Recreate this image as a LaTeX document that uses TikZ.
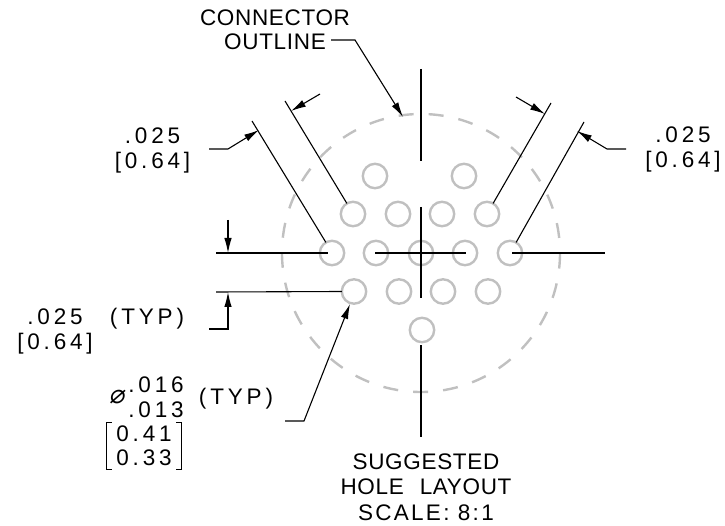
\documentclass[tikz,border=0pt]{standalone}
\usepackage{fontspec}
\usetikzlibrary{arrows.meta}
\setmainfont{Liberation Sans}
\newfontfamily\LabelFont[LetterSpace=3,WordSpace=2.3]{Liberation Sans}
\newfontfamily\DimFont[LetterSpace=17]{Liberation Sans}
\newfontfamily\ScaleFont[LetterSpace=10]{Liberation Sans}
\newfontfamily\DiaFont[FakeSlant=0.15]{DejaVu Sans}
\definecolor{holegray}{HTML}{C0C0C0}
\tikzset{
	hole/.style={circle, draw=holegray, line width=2.4pt, minimum size=24.4pt, inner sep=0pt, outer sep=0pt},
	shell/.style={circle, draw=holegray, line width=2.4pt, minimum size=278pt, inner sep=0pt, outer sep=0pt, dash pattern=on 15pt off 15.1pt, dash phase=15pt},
	dimline/.style={draw=black, line width=1.1pt},
	leader/.style={dimline, -{Latex[length=15pt,width=7.5pt]}},
	label/.style={font=\fontsize{22.5}{24.5}\selectfont\LabelFont, inner sep=0pt, anchor=base, align=center},
	dimtext/.style={font=\fontsize{22.5}{25}\selectfont\DimFont, inner sep=0pt, anchor=base, align=center},
	bracketbox/.style={font=\fontsize{22.5}{24}\selectfont\DimFont, inner sep=0pt, align=center, minimum width=74pt, minimum height=46pt}
}

\begin{document}
\begin{tikzpicture}[x=1pt,y=-1pt]
	\useasboundingbox (0,0) rectangle (725,526);

	% Define nodes
	\node[shell] (shell) at (421,253) {};
	\node[hole] (T1) at (375,176) {};
	\node[hole] (T2) at (464,176) {};
	\foreach \n/\x in {1/353,2/398,3/442,4/487} {
		\node[hole] (U\n) at (\x,214) {};
		\node[hole] (L\n) at (\x+1,291.5) {};
	}
	\foreach \n/\x in {1/332,2/376,3/421,4/465,5/510} {
		\node[hole] (M\n) at (\x,253) {};
	}
	\node[hole] (B1) at (422,330) {};

	\node[label] (conn) at (275,50) {CONNECTOR\\OUTLINE};
	\node[label] (sugg) at (426,494) {SUGGESTED\\HOLE LAYOUT};
	\node[label, font=\fontsize{22.5}{24.5}\selectfont\ScaleFont] (scale) at (426,520) {SCALE: 8:1};
	\node[dimtext] (dimUL) at (152.5,169) {.025\\{[}0.64{]}};
	\node[dimtext] (dimUR) at (683,168) {.025\\{[}0.64{]}};
	\node[dimtext] (dimLL) at (55,349) {.025\\{[}0.64{]}};
	\node[dimtext] (typA) at (147,325) {(TYP)};
	\node[dimtext] (dimA) at (156,417) {.016\\.013};
	\node[dimtext] (typB) at (236,404) {(TYP)};
	\node[font=\fontsize{26}{26}\selectfont\DiaFont, inner sep=0pt] (dia) at (117,397) {⌀};
	\node[bracketbox] (dimB) at (144,446) {0.41\\0.33};

	% Free ends of the lines
	\coordinate (vA) at (421,69);
	\coordinate (vB) at (421,161);
	\coordinate (vC) at (421,207);
	\coordinate (vD) at (421,298);
	\coordinate (vE) at (421,345);
	\coordinate (vF) at (421,437);
	\coordinate (hA) at (375,253);
	\coordinate (hB) at (466,253);
	\coordinate (extA) at (252,121);
	\coordinate (extB) at (285,101);
	\coordinate (extC) at (551,103);
	\coordinate (extD) at (584,122);
	\coordinate (extE) at (216,253);
	\coordinate (extF) at (328,253);
	\coordinate (extG) at (216,292);
	\coordinate (extH) at (605,253);
	\coordinate (extI) at (512,253);
	\coordinate (startA) at (331,40);
	\coordinate (kneeA) at (355,40);
	\coordinate (tipA) at (403,117);
	\coordinate (startB) at (209,149);
	\coordinate (kneeB) at (228,149);
	\coordinate (tipB) at (259,130);
	\coordinate (startC) at (320,94);
	\coordinate (tipC) at (291,111);
	\coordinate (startD) at (516,97);
	\coordinate (tipD) at (545,114);
	\coordinate (startE) at (626,149);
	\coordinate (kneeE) at (607,149);
	\coordinate (tipE) at (577,131);
	\coordinate (startF) at (228,220);
	\coordinate (tipF) at (228,253);
	\coordinate (startG) at (209,329);
	\coordinate (kneeG) at (228,329);
	\coordinate (tipG) at (228,292);
	\coordinate (startH) at (285,421);
	\coordinate (kneeH) at (304,421);
	\coordinate (tipH) at (350,304);

	% Connect the nodes
	\draw[dimline] (vA) -- (vB);
	\draw[dimline] (vC) -- (vD);
	\draw[dimline] (vE) -- (vF);
	\draw[dimline] (hA) -- (hB);
	\draw[dimline] (M1.120) -- (extA);
	\draw[dimline] (U1.120) -- (extB);
	\draw[dimline] (U4.60) -- (extC);
	\draw[dimline] (M5.60) -- (extD);
	\draw[dimline] (extE) -- (extF);
	\draw[dimline] (extG) -- (L1.west);
	\draw[dimline] (extI) -- (extH);

	\draw[leader] (startA) -- (kneeA) -- (tipA);
	\draw[leader] (startB) -- (kneeB) -- (tipB);
	\draw[leader] (startC) -- (tipC);
	\draw[leader] (startD) -- (tipD);
	\draw[leader] (startE) -- (kneeE) -- (tipE);
	\draw[leader] (startF) -- (tipF);
	\draw[leader] (startG) -- (kneeG) -- (tipG);
	\draw[leader] (startH) -- (kneeH) -- (tipH);

	% Brackets round the metric sizes
	\draw[dimline] ([xshift=5pt]dimB.north west) -- (dimB.north west) -- (dimB.south west) -- ([xshift=5pt]dimB.south west);
	\draw[dimline] ([xshift=-5pt]dimB.north east) -- (dimB.north east) -- (dimB.south east) -- ([xshift=-5pt]dimB.south east);
\end{tikzpicture}
\end{document}
